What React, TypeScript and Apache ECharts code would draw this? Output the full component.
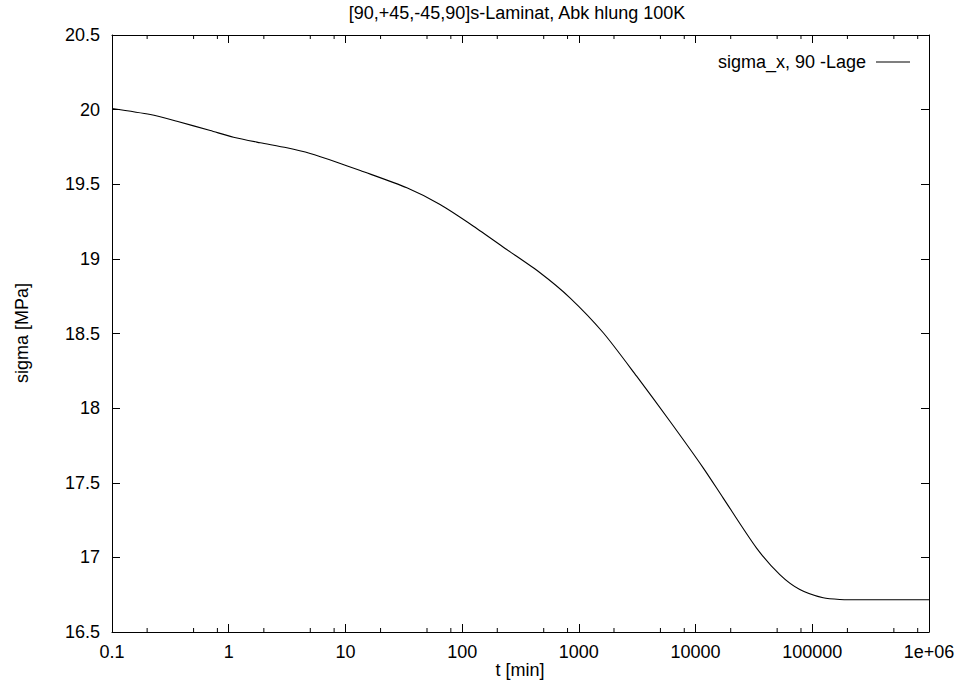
import React, { useEffect, useRef } from "react";
import * as echarts from "echarts";

const titleText = "[90,+45,-45,90]s-Laminat, Abk hlung 100K";
const seriesName = "sigma_x, 90 -Lage";
const xName = "t [min]";
const yName = "sigma [MPa]";

const tValues = [
  0.1, 0.213, 0.36, 0.695, 1.1, 1.86, 3.15, 4.99, 8.43, 13.4, 33.6, 64.7,
  125, 241, 465, 839, 1618, 3126, 6030, 11620, 17200, 33200, 52700, 78200,
  124000, 172000, 300000, 1000000,
];
const sigmaValues = [
  20.008, 19.967, 19.922, 19.86, 19.815, 19.778, 19.744, 19.706, 19.648,
  19.592, 19.476, 19.364, 19.219, 19.063, 18.907, 18.739, 18.505,
  18.214, 17.912, 17.6, 17.399, 17.064, 16.885, 16.785, 16.729, 16.718,
  16.716, 16.716,
];

const decades = [0.1, 1, 10, 100, 1000, 10000, 100000];
const minorFactors = [2, 5, 8];

const X_MIN = 0.1;
const X_MAX = 1000000;
const Y_MIN = 16.5;
const Y_MAX = 20.5;
const Y_STEP = 0.5;

const FONT = "'Liberation Sans', Arial, Helvetica, sans-serif";
const FS = 18;

function fmtX(v: number): string {
  if (v >= 999999) return "1e+06";
  const r = Math.round(v * 1000) / 1000;
  return String(r);
}

export default function App() {
  const ref = useRef<HTMLDivElement>(null);
  useEffect(() => {
    if (!ref.current) return;
    const chart = echarts.init(ref.current, undefined, { renderer: "svg" });
    const lineData = tValues.map((t, i) => [t, sigmaValues[i]]);
    const minorTicks: number[][] = [];
    decades.forEach((d) =>
      minorFactors.forEach((f) => minorTicks.push([d * f, Y_MIN]))
    );
    const axisLine = { show: true, lineStyle: { color: "#000", width: 1 } };
    const tick = { show: true, inside: true, length: 8, lineStyle: { color: "#000", width: 1 } };
    const option: any = {
      animation: false,
      backgroundColor: "#fff",
      textStyle: { fontFamily: FONT },
      grid: { left: 112, right: 31, top: 35, bottom: 51, containLabel: false },
      legend: {
        data: [seriesName],
        right: 45,
        top: 48,
        align: "right",
        icon: "rect",
        itemWidth: 34,
        itemHeight: 1,
        selectedMode: false,
        textStyle: { fontFamily: FONT, fontSize: FS, color: "#000", lineHeight: 18, padding: [0, 5, 0, 0] },
      },
      xAxis: [
        {
          type: "log",
          logBase: 10,
          min: X_MIN,
          max: X_MAX,
          position: "bottom",
          axisLine,
          axisTick: tick,
          splitLine: { show: false },
          axisLabel: {
            show: true,
            margin: 11,
            color: "#000",
            fontSize: FS,
            fontFamily: FONT,
            formatter: (v: number) => fmtX(v),
          },
        },
        {
          type: "log",
          logBase: 10,
          min: X_MIN,
          max: X_MAX,
          position: "top",
          axisLine,
          axisTick: tick,
          splitLine: { show: false },
          axisLabel: { show: false },
        },
      ],
      yAxis: [
        {
          type: "value",
          min: Y_MIN,
          max: Y_MAX,
          interval: Y_STEP,
          position: "left",
          axisLine,
          axisTick: tick,
          splitLine: { show: false },
          axisLabel: { margin: 12, color: "#000", fontSize: FS, fontFamily: FONT },
        },
        {
          type: "value",
          min: Y_MIN,
          max: Y_MAX,
          interval: Y_STEP,
          position: "right",
          axisLine,
          axisTick: tick,
          splitLine: { show: false },
          axisLabel: { show: false },
        },
      ],
      graphic: [
        {
          type: "text",
          x: 517,
          y: 13,
          style: { text: titleText, align: "center", verticalAlign: "middle", font: `${FS}px ${FONT}`, fill: "#000" },
        },
        {
          type: "text",
          x: 520,
          y: 670,
          style: { text: xName, align: "center", verticalAlign: "middle", font: `${FS}px ${FONT}`, fill: "#000" },
        },
        {
          type: "text",
          x: 22,
          y: 333,
          rotation: Math.PI / 2,
          style: { text: yName, align: "center", verticalAlign: "middle", font: `${FS}px ${FONT}`, fill: "#000" },
        },
      ],
      series: [
        {
          name: seriesName,
          type: "line",
          xAxisIndex: 0,
          yAxisIndex: 0,
          data: lineData,
          showSymbol: false,
          smooth: 0.25,
          lineStyle: { color: "#000", width: 1.1 },
          itemStyle: { color: "#000" },
          silent: true,
        },
        {
          name: "minorTicks",
          type: "custom",
          xAxisIndex: 0,
          yAxisIndex: 0,
          data: minorTicks,
          silent: true,
          renderItem: (params: any, api: any) => {
            const v = api.value(0);
            const b = api.coord([v, Y_MIN]);
            const t = api.coord([v, Y_MAX]);
            return {
              type: "group",
              children: [
                { type: "line", shape: { x1: b[0], y1: b[1], x2: b[0], y2: b[1] - 4 }, style: { stroke: "#000", lineWidth: 1 } },
                { type: "line", shape: { x1: t[0], y1: t[1], x2: t[0], y2: t[1] + 4 }, style: { stroke: "#000", lineWidth: 1 } },
              ],
            };
          },
        },
      ],
    };
    chart.setOption(option);
    return () => chart.dispose();
  }, []);
  return (
    <div
      ref={ref}
      style={{ position: "fixed", left: 0, top: 0, width: 960, height: 683, background: "#fff" }}
    />
  );
}
